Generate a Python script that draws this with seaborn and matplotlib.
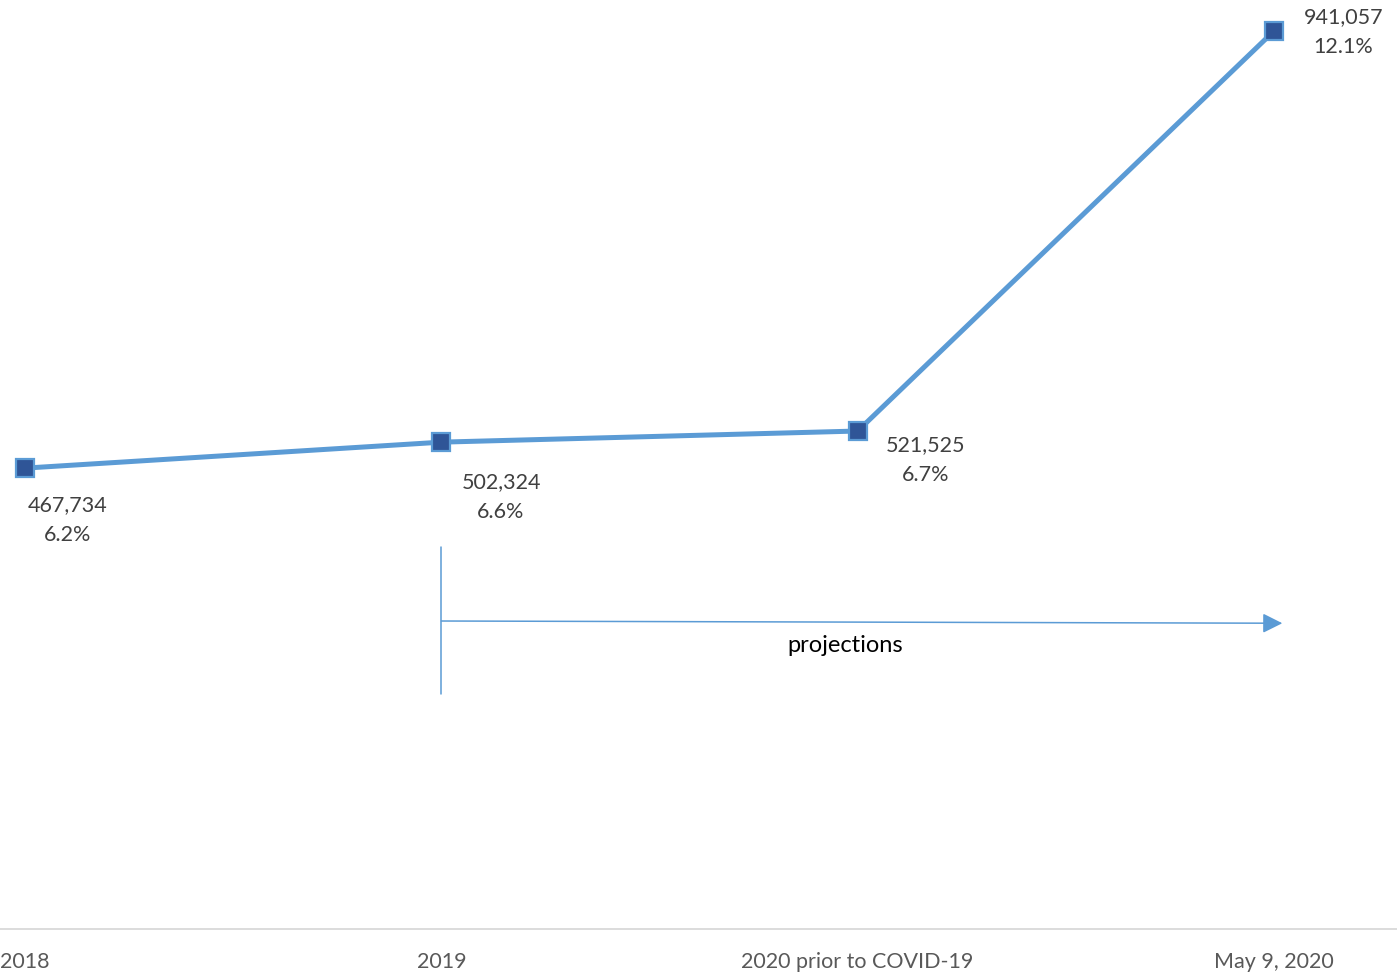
import matplotlib
matplotlib.use('Agg')
import matplotlib.pyplot as plt
import seaborn as sns
import pandas as pd

# data
categories = ['2018', '2019', '2020 prior to COVID-19', 'May 9, 2020']
counts = [467734, 502324, 521525, 941057]
rates = [6.21, 6.56, 6.71, 12.1]   # plotted series (percent)

# label offsets in points (dx, dy) for each point
label_offsets = [(31, -37), (43, -39), (49, -20), (50, 0)]

line_color = '#5B9BD5'
marker_color = '#2F5597'
text_color = '#404040'

sns.set_theme(style='white')
plt.rcParams['font.family'] = ['Lato', 'DejaVu Sans']

df = pd.DataFrame({'pos': range(len(categories)), 'rate': rates})

fig = plt.figure(figsize=(13.97, 9.78), dpi=100)
ax = fig.add_axes([0, 48 / 978, 1, 930 / 978])

sns.lineplot(data=df, x='pos', y='rate', ax=ax, color=line_color, linewidth=3.6,
             marker='s', markersize=13, markerfacecolor=marker_color,
             markeredgecolor=line_color, markeredgewidth=1.6, zorder=3)

for i, (c, r) in enumerate(zip(counts, rates)):
    ax.annotate(f'{c:,}\n{r:.1f}%', xy=(i, r), xytext=label_offsets[i],
                textcoords='offset points', ha='center', va='center',
                fontsize=15.5, color=text_color, linespacing=1.62)

# projections bracket and arrow
ax.plot([1, 1], [3.17, 5.15], color=line_color, lw=1.1)
ax.annotate('', xy=(3.02, 4.12), xytext=(1, 4.15),
            arrowprops=dict(arrowstyle='-|>,head_length=0.6,head_width=0.3',
                            color=line_color, lw=1.1, mutation_scale=20,
                            shrinkA=0, shrinkB=0))
ax.text(1.97, 3.84, 'projections', ha='center', va='center', fontsize=17, color='black')

ax.set_xlim(-25 / 416.33, 3 + 123 / 416.33)
ax.set_ylim(0, 12.1 * 930 / 898)
ax.set_xticks(range(len(categories)))
ax.set_xticklabels(categories, fontsize=15.5, color='#595959')
ax.tick_params(axis='x', length=0, pad=15.5)
ax.set_yticks([])
ax.set_xlabel('')
ax.set_ylabel('')
for s in ['top', 'left', 'right']:
    ax.spines[s].set_visible(False)
ax.spines['bottom'].set_color('#D9D9D9')
ax.spines['bottom'].set_linewidth(1.3)

fig.savefig('out.png', dpi=100)
